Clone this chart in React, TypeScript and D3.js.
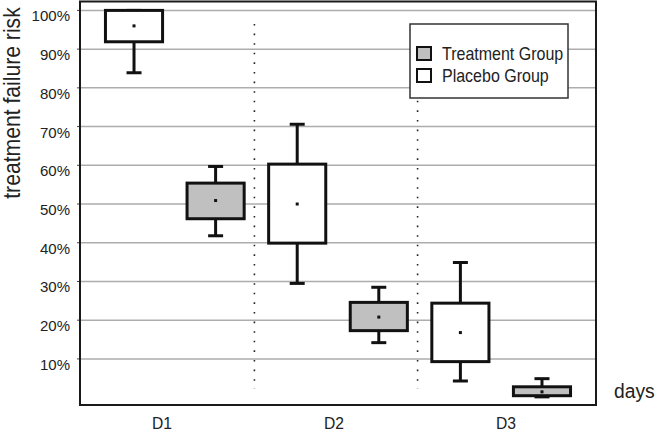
import React from "react";
import * as d3 from "d3";

const days = ["D1", "D2", "D3"];
const boxKeys = ["D1-P", "D1-T", "D2-P", "D2-T", "D3-P", "D3-T"];
const boxGroup = ["placebo", "treatment", "placebo", "treatment", "placebo", "treatment"];
const whiskerLow = [83.9, 41.8, 29.5, 14.2, 4.3, 0.2];
const boxLow = [91.9, 46.2, 39.9, 17.3, 9.3, 0.5];
const median = [96.0, 50.9, 50.0, 20.8, 16.8, 1.5];
const boxHigh = [100, 55.4, 60.3, 24.6, 24.4, 2.8];
const whiskerHigh = [100, 59.7, 70.6, 28.5, 34.9, 4.9];
const yTicks = [10, 20, 30, 40, 50, 60, 70, 80, 90, 100];
const legendItems = [
  { label: "Treatment Group", group: "treatment" },
  { label: "Placebo Group", group: "placebo" },
];

const W = 663;
const H = 433;
const font = '"Liberation Sans", Arial, sans-serif';
const fills: Record<string, string> = { treatment: "#c0c0c0", placebo: "#ffffff" };

// text squeezed sideways to look like the condensed face of the original
const Narrow = ({ x, y, size, sx = 0.89, rotate = 0, anchor = "start", children }: any) => (
  <g transform={`translate(${x},${y}) rotate(${rotate}) scale(${sx},1)`}>
    <text fontSize={size} textAnchor={anchor} fill="#222">
      {children}
    </text>
  </g>
);

export default function App() {
  const left = 80;
  const right = 596;
  const top = 1.5;
  const bottom = 405;

  const y = d3.scaleLinear().domain([-1.9, 102.3]).range([bottom, top]);
  const x = d3
    .scaleBand()
    .domain(boxKeys)
    .range([left, right])
    .paddingInner(0.3)
    .paddingOuter(0.312);
  const xDay = d3.scaleBand().domain(days).range([left, right]);
  const bw = x.bandwidth();
  const capW = 15;

  // separators between the day groups
  const seps = [1, 3].map((i) => {
    const a = x(boxKeys[i])! + bw;
    const b = x(boxKeys[i + 1])!;
    return (a + b) / 2 - 2;
  });

  return (
    <div style={{ position: "fixed", left: 0, top: 0 }}>
      <svg width={W} height={H} style={{ display: "block", fontFamily: font }}>
        <rect x={0} y={0} width={W} height={H} fill="#fff" />
        {/* gridlines */}
        {yTicks.map((t) => (
          <g key={t}>
            <line x1={left} x2={right} y1={y(t)} y2={y(t)} stroke="#adadad" strokeWidth={1.5} />
            <line x1={left - 3} x2={left} y1={y(t)} y2={y(t)} stroke="#444" strokeWidth={1} />
            <Narrow x={left - 10} y={y(t) + 11} size={15.5} sx={0.97} anchor="end">
              {t + "%"}
            </Narrow>
          </g>
        ))}
        {/* dotted separators */}
        {seps.map((sx, i) => (
          <line
            key={i}
            x1={sx}
            x2={sx}
            y1={y(96.5)}
            y2={y(2.2)}
            stroke="#222"
            strokeWidth={1.6}
            strokeDasharray="1.6 8"
          />
        ))}
        {/* boxes */}
        {boxKeys.map((k, i) => {
          const cx = x(k)! + bw / 2;
          return (
            <g key={k} stroke="#111" strokeWidth={3}>
              <line x1={cx} x2={cx} y1={y(whiskerHigh[i])} y2={y(boxHigh[i])} />
              <line x1={cx} x2={cx} y1={y(boxLow[i])} y2={y(whiskerLow[i])} />
              <line x1={cx - capW / 2} x2={cx + capW / 2} y1={y(whiskerHigh[i])} y2={y(whiskerHigh[i])} />
              <line x1={cx - capW / 2} x2={cx + capW / 2} y1={y(whiskerLow[i])} y2={y(whiskerLow[i])} />
              <rect
                x={x(k)!}
                y={y(boxHigh[i])}
                width={bw}
                height={y(boxLow[i]) - y(boxHigh[i])}
                fill={fills[boxGroup[i]]}
              />
              <rect x={cx - 1.5} y={y(median[i]) - 1.5} width={3} height={3} fill="#111" stroke="none" />
            </g>
          );
        })}
        {/* frame */}
        <rect
          x={left}
          y={top}
          width={right - left}
          height={bottom - top}
          fill="none"
          stroke="#1a1a1a"
          strokeWidth={2}
        />
        {/* legend */}
        <rect x={410} y={24} width={158} height={74} fill="#fff" stroke="#333" strokeWidth={1.5} />
        {legendItems.map((d, i) => (
          <g key={d.label}>
            <rect
              x={417}
              y={47 + i * 22}
              width={14}
              height={13}
              fill={fills[d.group]}
              stroke="#111"
              strokeWidth={2}
            />
            <Narrow x={442} y={60 + i * 22} size={18} sx={0.89}>
              {d.label}
            </Narrow>
          </g>
        ))}
        {/* x labels */}
        {days.map((d) => (
          <Narrow key={d} x={xDay(d)! + xDay.bandwidth() / 2 - 4} y={429} size={16.5} sx={0.95} anchor="middle">
            {d}
          </Narrow>
        ))}
        <Narrow x={614} y={398} size={21} sx={0.92}>
          days
        </Narrow>
        <Narrow x={20} y={103} size={23} sx={0.92} rotate={-90} anchor="middle">
          treatment failure risk
        </Narrow>
      </svg>
    </div>
  );
}
